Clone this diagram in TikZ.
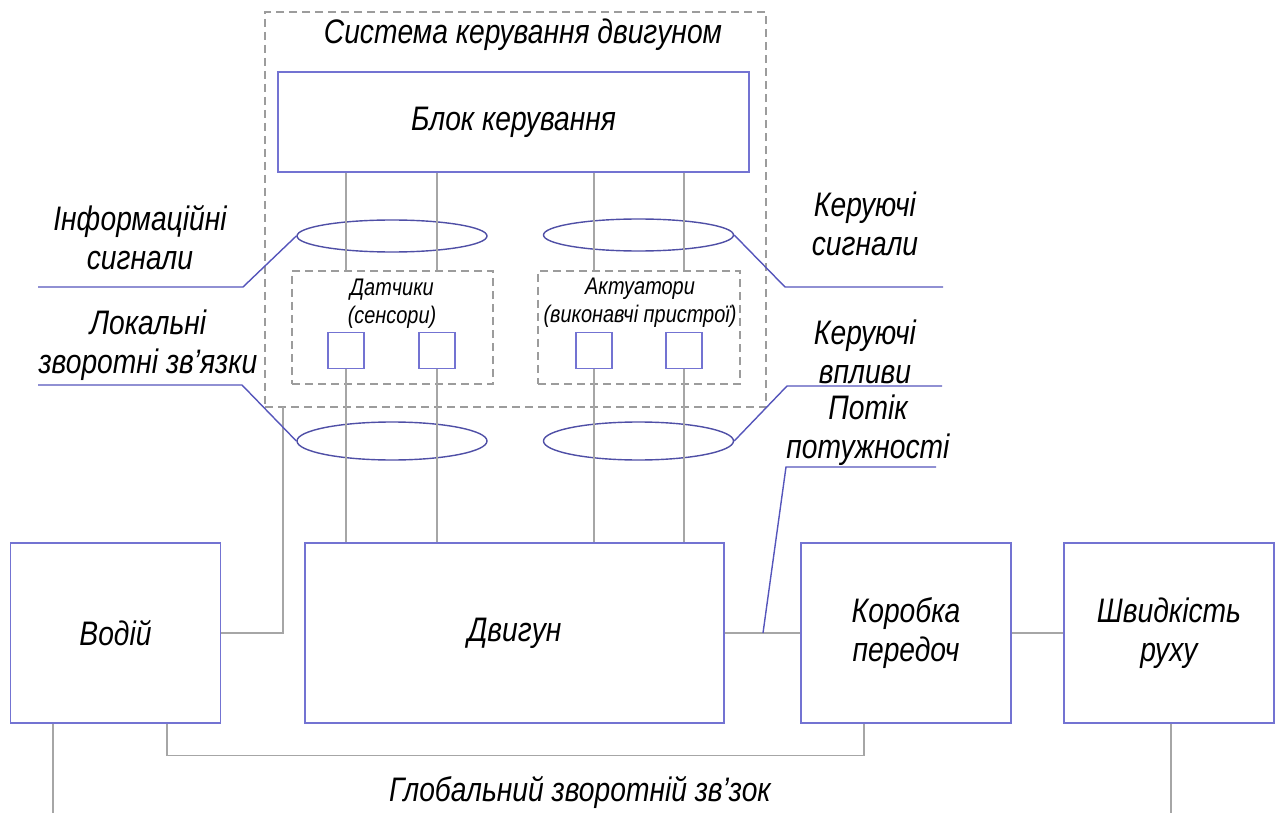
\documentclass[tikz,border=0pt]{standalone}
\usepackage{fontspec}
\setmainfont[FakeStretch=0.83]{Liberation Sans}
\usetikzlibrary{positioning,shapes.geometric}
\definecolor{frame500}{HTML}{7373D2}
\definecolor{lead600}{HTML}{5555BB}
\definecolor{ring700}{HTML}{4F4FA6}
\definecolor{wire400}{HTML}{A6A6A6}
\definecolor{dash400}{HTML}{9C9C9C}
\tikzset{
  every node/.style={font=\fontsize{17}{19.5}\selectfont\itshape, align=center},
  unit/.style={
    rectangle, draw=frame500, line width=0.75pt,
    minimum width=105pt, minimum height=90pt, inner sep=0pt
  },
  group/.style={
    rectangle, draw=dash400, line width=0.6pt,
    dash pattern=on 4pt off 2.5pt, inner sep=0pt
  },
  probe/.style={rectangle, draw=frame500, line width=0.75pt, minimum size=18pt, inner sep=0pt},
  bundle/.style={ellipse, draw=ring700, line width=0.7pt, minimum width=95pt, inner sep=0pt},
  leader/.style={draw=lead600, line width=0.7pt},
  wire/.style={draw=wire400, line width=0.6pt},
  minor/.style={font=\fontsize{12}{14}\selectfont\itshape},
}

\begin{document}
\begin{tikzpicture}[x=0.5pt, y=-0.5pt]
  \useasboundingbox (0,0) rectangle (1281,813);
  % engine control system
  \node[group, minimum width=250.5pt, minimum height=197.5pt] (sys) at (515.5,209.5) {};
  \node (systitle) at (523,35) {Система керування двигуном};
  \node[unit, minimum width=235.5pt, minimum height=50pt] (ctrl) at (513.5,122) {Блок керування};
  \node[group, minimum width=100.5pt, minimum height=56.5pt] (sens) at (392.5,327.5) {};
  \node[group, minimum width=101pt, minimum height=56.5pt] (act) at (639,327.5) {};
  \node[minor] (senslbl) at (392,304) {Датчики\\(сенсори)};
  \node[minor] (actlbl) at (640,303) {Актуатори\\(виконавчі пристрої)};
  \node[probe] (s1) at (346,350.5) {};
  \node[probe] (s2) at (437,350.5) {};
  \node[probe] (a1) at (594,350.5) {};
  \node[probe] (a2) at (684,350.5) {};
  \node[bundle, minimum height=16pt] (ie) at (392,236) {};
  \node[bundle, minimum height=16pt] (ce) at (638.5,235) {};
  \node[bundle, minimum height=19pt] (le) at (392,441) {};
  \node[bundle, minimum height=19pt] (ve) at (638.5,441) {};

  % plant
  \node[unit] (driver) at (115.5,633) {Водій};
  \node[unit, minimum width=209.5pt] (engine) at (514.5,633) {Двигун};
  \node[unit] (gear) at (906,633) {Коробка\\передоч};
  \node[unit] (speed) at (1169,633) {Швидкість\\руху};

  \foreach \p/\g in {s1/sens, s2/sens, a1/act, a2/act}{
    \draw[wire] (ctrl.south -| \p) -- (\g.north -| \p);
    \draw[wire] (\p.south) -- (engine.north -| \p);
  }

  \coordinate (drvtap) at (283,407);
  \coordinate (drvout) at (53,813);
  \coordinate (spdout) at (1171,813);
  \draw[wire] (driver.east) -| (drvtap);
  \draw[wire] (engine.east) -- (gear.west);
  \draw[wire] (gear.east) -- (speed.west);
  \draw[wire] ([xshift=25.75pt]driver.south) -- ++(0,32) -| ([xshift=-21pt]gear.south);
  \draw[wire] (driver.south -| drvout) -- (drvout);
  \draw[wire] (speed.south -| spdout) -- (spdout);

  % leaders
  \coordinate (infoA) at (243,287);  \coordinate (infoB) at (38,287);
  \coordinate (cmdA) at (785,287);   \coordinate (cmdB) at (943,287);
  \coordinate (locA) at (242,385);   \coordinate (locB) at (38,385);
  \coordinate (effA) at (787,386);   \coordinate (effB) at (942,386);
  \coordinate (powtap) at (763,633); \coordinate (powA) at (786,467); \coordinate (powB) at (936,467);
  \draw[leader] (ie.west) -- (infoA) -- (infoB);
  \draw[leader] (ce.east) -- (cmdA) -- (cmdB);
  \draw[leader] (le.west) -- (locA) -- (locB);
  \draw[leader] (ve.east) -- (effA) -- (effB);
  \draw[leader] (powtap) -- (powA) -- (powB);

  \node (infolbl) at (140,238) {Інформаційні\\сигнали};
  \node (cmdlbl) at (865,224) {Керуючі\\сигнали};
  \node (loclbl) at (148,345) {Локальні\\зворотні зв’язки};
  \node (efflbl) at (865,352) {Керуючі\\впливи};
  \node (powlbl) at (868,430) {Потік\\потужності};
  \node (globlbl) at (580,792) {Глобальний зворотній зв’зок};
\end{tikzpicture}
\end{document}
